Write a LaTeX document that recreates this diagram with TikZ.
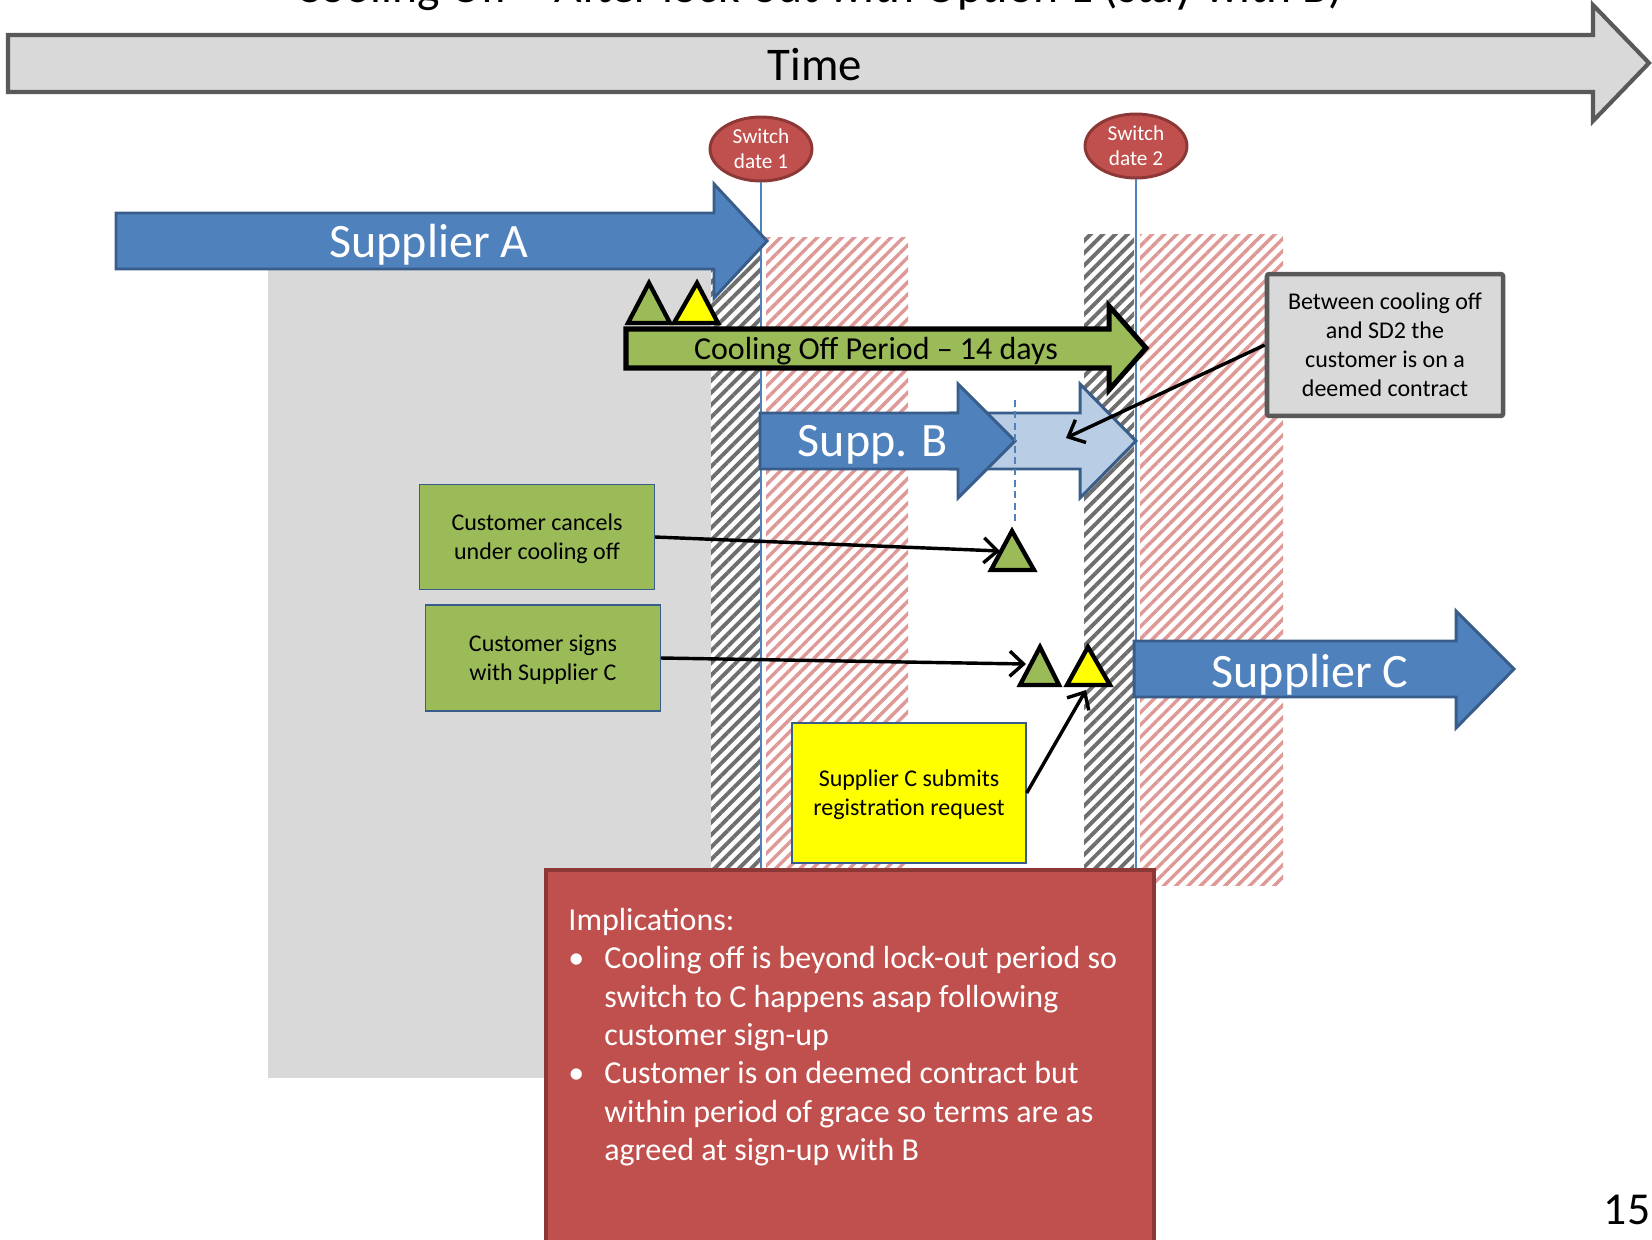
\documentclass[tikz,border=0pt]{standalone}
\usepackage{fontspec}
\setmainfont{Carlito}
\usetikzlibrary{arrows.meta,patterns.meta,shapes.geometric}

\definecolor{supblue}{HTML}{4F81BD}
\definecolor{supborder}{HTML}{385D8A}
\definecolor{supbpale}{HTML}{B9CDE5}
\definecolor{coolgreen}{HTML}{9BBB59}
\definecolor{regyellow}{HTML}{FFFF00}
\definecolor{implred}{HTML}{C0504D}
\definecolor{implborder}{HTML}{8C3836}
\definecolor{bggray}{HTML}{D9D9D9}
\definecolor{edgegray}{HTML}{595959}
\definecolor{hatchred}{RGB}{222,152,150}
\definecolor{hatchgray}{RGB}{110,110,110}

\begin{document}
\begin{tikzpicture}[x=0.015375cm, y=-0.015375cm,
  supplier/.style={draw=supborder, fill=supblue, line width=1.3pt},
  supplierpale/.style={draw=supborder, fill=supbpale, line width=1.3pt},
  cooling/.style={draw=black, fill=coolgreen, line width=2.2pt},
  timeline/.style={draw=edgegray, fill=bggray, line width=1.8pt},
  bigtext/.style={font=\fontsize{21}{25}\selectfont, inner sep=0pt},
  switchdate/.style={ellipse, draw=implborder, fill=implred, line width=1.3pt, text=white,
    minimum width=44.6pt, minimum height=28pt, inner sep=0pt, align=center,
    font=\fontsize{9.3}{11}\selectfont},
  sdline/.style={draw=supblue, line width=0.9pt},
  lockout/.style={pattern={Lines[angle=45,distance=3.8pt,line width=1.7pt]}, pattern color=hatchgray},
  graceperiod/.style={pattern={Lines[angle=45,distance=3.8pt,line width=1.5pt]}, pattern color=hatchred},
  event/.style={draw=black, line width=1.9pt},
  infobox/.style={draw=supborder, line width=0.6pt, minimum width=102.8pt, inner sep=0pt,
    text depth=0pt, align=center, font=\fontsize{10.5}{12.7}\selectfont},
  conn/.style={draw=black, line width=1.5pt, -{Straight Barb[length=6pt,width=11pt]}},
  implbox/.style={draw=implborder, fill=implred, line width=2pt},
  impltext/.style={text=white, inner sep=0pt, align=left, font=\fontsize{14}{16.75}\selectfont}
]
\useasboundingbox (0,0) rectangle (1652,1239);
\clip (0,0) rectangle (1652,1239);

% title, cut at the top of the slide
\draw (819,2) node[bigtext, anchor=base, font=\fontsize{20.8}{25}\selectfont] (title)
  {Cooling Off -- After lock-out with Option 1 (stay with B)};

% time axis
\draw[timeline] (8,35) -- (1593,35) -- (1593,5) -- (1649,63) -- (1593,121) -- (1593,92) -- (8,92) -- cycle;
\draw (815,65) node[bigtext, font=\fontsize{20.5}{25}\selectfont] (time) {Time};

% background and lock-out / grace areas
\fill[bggray] (268,240) rectangle (711,1078);
\path[lockout] (711,237) rectangle (760,869);
\path[graceperiod] (766,237) rectangle (908,869);
\path[lockout] (1084,234) rectangle (1134,869);
\path[graceperiod] (1140,234) rectangle (1283,885);

% switch dates
\draw (761,149) node[switchdate] (sd1) {Switch\\date 1};
\draw (1136,146) node[switchdate] (sd2) {Switch\\date 2};
\coordinate (sd1end) at (761,869);
\coordinate (sd2end) at (1136,869);
\draw[sdline] (sd1.south) -- (sd1end);
\draw[sdline] (sd2.south) -- (sd2end);

% suppliers
\draw[supplier] (116,213) -- (714,213) -- (714,184) -- (767,241) -- (714,298) -- (714,269) -- (116,269) -- cycle;
\draw (429,245) node[bigtext, text=white] (suppA) {Supplier A};

\draw[supplierpale] (950,413) -- (1080,413) -- (1080,384) -- (1136,441) -- (1080,498) -- (1080,469) -- (950,469) -- cycle;
\draw[supplier] (760,413) -- (958,413) -- (958,384) -- (1015,441) -- (958,498) -- (958,469) -- (760,469) -- cycle;
\draw (873,445) node[bigtext, text=white] (suppB) {Supp. B};
\draw[supblue, line width=1pt, dash pattern=on 3pt off 2pt] (1015,400) -- (1015,524);

\draw[supplier] (1134,641) -- (1456,641) -- (1456,611) -- (1514,669) -- (1456,728) -- (1456,697) -- (1134,697) -- cycle;
\draw (1310,675) node[bigtext, text=white] (suppC) {Supplier C};

% cooling off
\draw[event, fill=coolgreen] (628,323) -- (649,283) -- (670,323) -- cycle;
\draw[event, fill=regyellow] (674,323) -- (697,283) -- (718,323) -- cycle;
\draw[cooling] (626,329) -- (1109,329) -- (1109,306) -- (1146,348) -- (1109,390) -- (1109,368) -- (626,368) -- cycle;
\draw (876,351) node[inner sep=0pt, font=\fontsize{14}{17}\selectfont] (cooloff) {Cooling Off Period -- 14 days};

% events
\draw[event, fill=coolgreen] (991,570) -- (1012,531) -- (1034,570) -- cycle;
\draw[event, fill=coolgreen] (1020,685) -- (1040,647) -- (1059,685) -- cycle;
\draw[event, fill=regyellow] (1067,685) -- (1088,647) -- (1110,685) -- cycle;

\draw (537,537) node[infobox, fill=coolgreen, minimum height=45.9pt] (cancel) {Customer cancels\\under cooling off};
\draw (543,658) node[infobox, fill=coolgreen, minimum height=46.4pt] (signs) {Customer signs\\with Supplier C};
\draw (909,793) node[infobox, fill=regyellow, minimum width=102.4pt, minimum height=61.3pt] (regreq) {Supplier C submits\\registration request};
\draw (1385,345) node[infobox, draw=edgegray, line width=2pt, rounded corners=1pt, fill=bggray,
  minimum width=103.3pt, minimum height=62.1pt] (deemed) {Between cooling off\\and SD2 the\\customer is on a\\deemed contract};

\coordinate (tipcancel) at (1000,551);
\coordinate (tipsigns) at (1026,664);
\coordinate (tipreg) at (1086,690);
\coordinate (tipdeemed) at (1066,438);
\draw[conn] (cancel.east) -- (tipcancel);
\draw[conn] (signs.east) -- (tipsigns);
\draw[conn] (regreq.east) -- (tipreg);
\draw[conn] (deemed.west) -- (tipdeemed);

% implications
\draw[implbox] (546,870) rectangle (1154,1262);
\draw (568,908) node[impltext, anchor=north west] (impl) {Implications:\\
  \makebox[15.7pt][l]{\textbullet}Cooling off is beyond lock-out period so\\
  \hspace*{15.7pt}switch to C happens asap following\\
  \hspace*{15.7pt}customer sign-up\\
  \makebox[15.7pt][l]{\textbullet}Customer is on deemed contract but\\
  \hspace*{15.7pt}within period of grace so terms are as\\
  \hspace*{15.7pt}agreed at sign-up with B};

\draw (1627,1210) node[bigtext, font=\fontsize{20}{24}\selectfont] (pagenum) {15};
\end{tikzpicture}
\end{document}
